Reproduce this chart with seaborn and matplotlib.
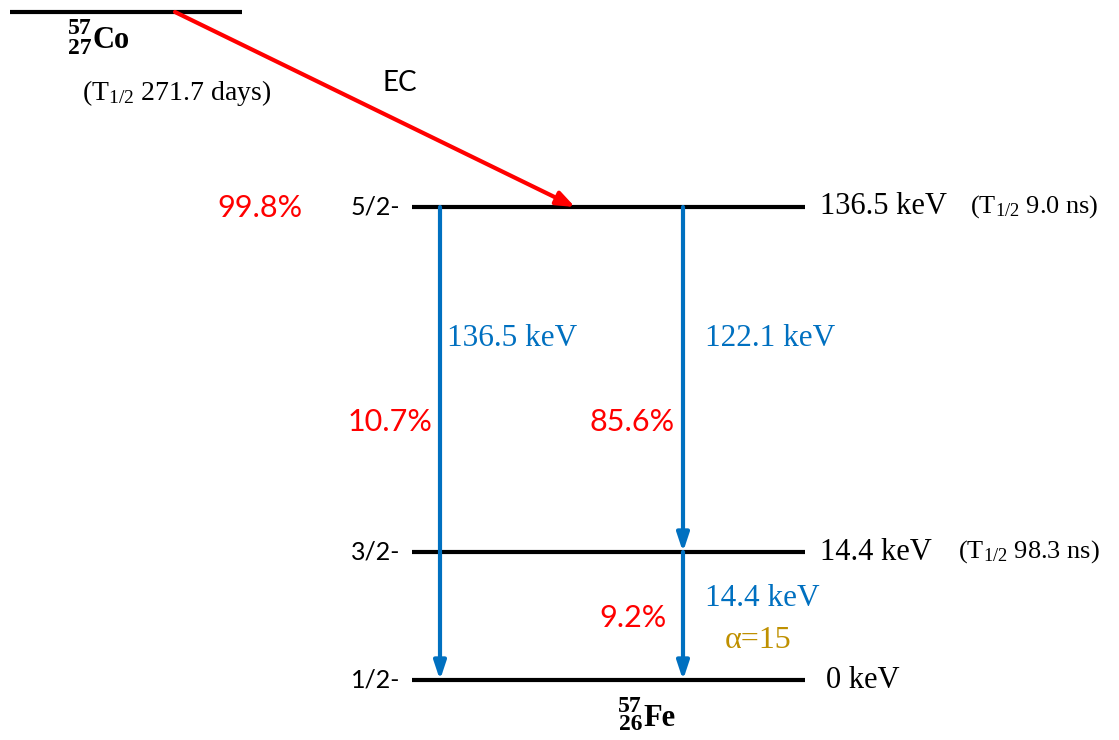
import matplotlib
matplotlib.use("Agg")
import matplotlib.pyplot as plt
import seaborn as sns
import pandas as pd

# Decay data for 57Co -> 57Fe
parent_symbol = "Co"
parent_mass = 57
parent_z = 27
parent_half_life = "271.7 days"
ec_branch = "99.8%"

daughter_symbol = "Fe"
daughter_mass = 57
daughter_z = 26

level_energies = [136.5, 14.4, 0.0]          # keV
level_spins = ["5/2-", "3/2-", "1/2-"]
level_half_lives = ["9.0 ns", "98.3 ns", ""]

gamma_energies = [136.5, 122.1, 14.4]        # keV
gamma_from = [136.5, 136.5, 14.4]
gamma_to = [0.0, 14.4, 0.0]
gamma_intensities = ["10.7%", "85.6%", "9.2%"]
conversion_coeff = 15

# Layout (figure pixel space)
W, H = 1119, 740
level_y = {136.5: 207, 14.4: 552, 0.0: 680}
level_x0, level_x1 = 412, 805
parent_y, parent_x0, parent_x1 = 12, 10, 242
gamma_x = [440, 683, 683]

RED = "#FF0000"
BLUE = "#0070C0"
GOLD = "#BF9000"
SERIF = "Liberation Serif"
SANS = "Lato"

sns.set_theme(style="white")
plt.rcParams["text.color"] = "black"
plt.rcParams["mathtext.fontset"] = "custom"
plt.rcParams["mathtext.rm"] = SERIF
plt.rcParams["mathtext.it"] = SERIF + ":italic"
plt.rcParams["mathtext.bf"] = SERIF + ":bold"

fig = plt.figure(figsize=(W / 100, H / 100), dpi=100)
ax = fig.add_axes([0, 0, 1, 1])

# Energy levels as line segments
rows = []
for i, e in enumerate(level_energies):
    for x in (level_x0, level_x1):
        rows.append({"x": x, "y": level_y[e], "seg": f"L{i}"})
for x in (parent_x0, parent_x1):
    rows.append({"x": x, "y": parent_y, "seg": "parent"})
seg_df = pd.DataFrame(rows)
sns.lineplot(data=seg_df, x="x", y="y", units="seg", estimator=None,
             color="black", linewidth=3.0, ax=ax, legend=False,
             solid_capstyle="butt")
ax.set_xlim(0, W)
ax.set_ylim(H, 0)
ax.axis("off")


def nuclide(x_split, y, mass, z, symbol):
    """Isotope symbol with stacked mass number and atomic number."""
    ax.text(x_split, y - 12, str(mass), family=SERIF, weight="bold",
            fontsize=17, ha="right", va="center")
    ax.text(x_split, y + 7, str(z), family=SERIF, weight="bold",
            fontsize=17, ha="right", va="center")
    ax.text(x_split + 1, y, symbol, family=SERIF, weight="bold",
            fontsize=22, ha="left", va="center")


# Parent nucleus labels
nuclide(92, 41, parent_mass, parent_z, parent_symbol)
ax.text(82, 93, rf"(T$_{{1/2}}$ {parent_half_life})", family=SERIF,
        fontsize=20, ha="left", va="center")

# Electron capture branch
ax.annotate("", xy=(575, 207), xytext=(175, parent_y),
            arrowprops=dict(arrowstyle="-|>,head_length=0.9,head_width=0.35",
                            color=RED, lw=3.0, shrinkA=0, shrinkB=0))
ax.text(400, 83, "EC", family=SANS, fontsize=20, ha="center", va="center")
ax.text(260, 208, ec_branch, family=SANS, color=RED, fontsize=22,
        ha="center", va="center")

# Level annotations
hl_x = {136.5: 970, 14.4: 958}
for e, spin, hl in zip(level_energies, level_spins, level_half_lives):
    y = level_y[e]
    ax.text(400, y, spin, family=SANS, fontsize=18, ha="right", va="center")
    ax.text(820 if e else 826, y, f"{e:g} keV", family=SERIF, fontsize=22,
            ha="left", va="center")
    if hl:
        ax.text(hl_x[e], y, rf"(T$_{{1/2}}$ {hl})", family=SERIF,
                fontsize=19, ha="left", va="center")

# Gamma transitions
label_pos = [(447, 338), (705, 338), (705, 598)]
pct_pos = [(390, 422), (632, 422), (633, 618)]
for gx, ge, gf, gt, gi, lp, pp in zip(gamma_x, gamma_energies, gamma_from,
                                      gamma_to, gamma_intensities,
                                      label_pos, pct_pos):
    ax.annotate("", xy=(gx, level_y[gt]), xytext=(gx, level_y[gf]),
                arrowprops=dict(arrowstyle="-|>,head_length=0.9,head_width=0.3",
                                color=BLUE, lw=3.0, shrinkA=0, shrinkB=0))
    ax.text(lp[0], lp[1], f"{ge:g} keV", family=SERIF, color=BLUE,
            fontsize=22.5, ha="left", va="center")
    ax.text(pp[0], pp[1], gi, family=SANS, color=RED, fontsize=22,
            ha="center", va="center")

ax.text(758, 640, f"α={conversion_coeff}", family=SERIF, color=GOLD,
        fontsize=23, ha="center", va="center")

# Daughter nucleus label
nuclide(642, 718, daughter_mass, daughter_z, daughter_symbol)

fig.savefig("out.png", dpi=100, facecolor="white")
